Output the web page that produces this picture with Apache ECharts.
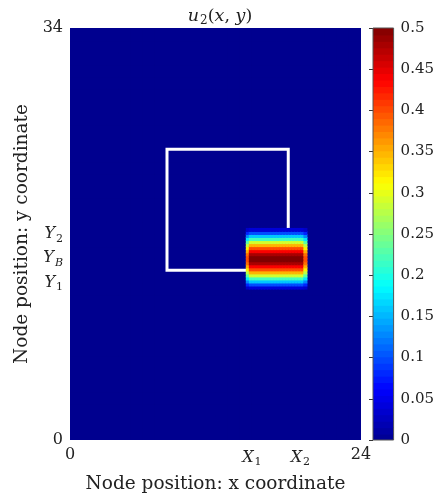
<!DOCTYPE html>
<html><head><meta charset="utf-8">
<script src="https://cdn.jsdelivr.net/npm/echarts@6/dist/echarts.min.js"></script>
<style>html,body{margin:0;padding:0;background:#fff}#c{width:437px;height:500px}</style>
</head><body><div id="c"></div>
<script>
// ---- data ----
const xRange = [0, 24];
const yRange = [0, 34];
const xTickValues = [0, 15, 19, 24];
const xTickLabels = ['0', '{i|X}{s|1}', '{i|X}{s|2}', '24'];
const yTickValues = [0, 13, 15, 17, 34];
const yTickLabels = ['0', '{i|Y}{s|1}', '{i|Y}{sb|B}', '{i|Y}{s|2}', '34'];
// blob: row edges (y) with the value of each row, column edges (x) with a weight per column
const blobRowEdges = [12.5,12.75,13,13.25,13.5,13.75,14,14.25,14.5,14.75,15,15.25,15.5,15.75,16,16.25,16.5,16.75,17,17.25,17.5];
const blobRowValue = [0.04,0.1,0.16,0.22,0.29,0.35,0.40,0.44,0.48,0.50,0.50,0.48,0.44,0.40,0.35,0.29,0.22,0.16,0.1,0.04];
const blobColEdges = [14.5,14.75,15,15.25,15.5,15.75,16,16.25,16.5,16.75,17,17.25,17.5,17.75,18,18.25,18.5,18.75,19,19.25,19.5];
const blobColWeight = [0.8,1,1,1,1,1,1,1,1,1,1,1,1,1,1,1,1,1,1,0.8];
// white box outline
const boxX = [8, 8, 18, 18, 8];
const boxY = [14, 24, 24, 14, 14];
// colour scale
const cbMin = 0, cbMax = 0.5, cbInterval = 0.05, cbLevels = 64;
const jet = ['#00008F','#0000FF','#0080FF','#00FFFF','#80FF80','#FFFF00','#FF8000','#FF0000','#800000'];

// ---- build series data ----
const zeroField = [];
for (let x = xRange[0]; x < xRange[1]; x++)
  for (let y = yRange[0]; y < yRange[1]; y++) zeroField.push([x, y, x + 1, y + 1, 0]);
const blobField = [];
for (let i = 0; i < blobColWeight.length; i++)
  for (let j = 0; j < blobRowValue.length; j++)
    blobField.push([blobColEdges[i], blobRowEdges[j], blobColEdges[i + 1], blobRowEdges[j + 1], blobRowValue[j] * blobColWeight[i]]);
const cbData = [];
for (let k = 0; k < cbLevels; k++) {
  const v0 = cbMin + (cbMax - cbMin) * k / cbLevels, v1 = cbMin + (cbMax - cbMin) * (k + 1) / cbLevels;
  cbData.push([0, v0, 1, v1, (v0 + v1) / 2]);
}
const boxData = boxX.map((x, i) => [x, boxY[i]]);

function rectItem(params, api) {
  const p0 = api.coord([api.value(0), api.value(1)]);
  const p1 = api.coord([api.value(2), api.value(3)]);
  const cs = params.coordSys;
  const x = Math.min(p0[0], p1[0]), y = Math.min(p0[1], p1[1]);
  let w = Math.abs(p1[0] - p0[0]) + 1, h = Math.abs(p1[1] - p0[1]) + 1;
  w = Math.min(w, cs.x + cs.width - x); h = Math.min(h, cs.y + cs.height - y);
  return { type: 'rect', shape: { x: x, y: y, width: w, height: h },
           style: { fill: api.visual('color'), stroke: null } };
}

const serif = 'DejaVu Serif';
const rich = {
  i: { fontFamily: serif, fontStyle: 'italic', fontWeight: 'normal', fontSize: 16, color: '#222' },
  s: { fontFamily: serif, fontWeight: 'normal', fontSize: 11, color: '#222', padding: [10, 0, 0, 1] },
  sb: { fontFamily: serif, fontStyle: 'italic', fontWeight: 'normal', fontSize: 11, color: '#222', padding: [10, 0, 0, 1] }
};
const titleRich = {
  i: { fontFamily: serif, fontStyle: 'italic', fontWeight: 'normal', fontSize: 17.5, color: '#222' },
  s: { fontFamily: serif, fontWeight: 'normal', fontSize: 12, color: '#222', padding: [10, 0, 0, 1] },
  n: { fontFamily: serif, fontWeight: 'normal', fontSize: 17.5, color: '#222' }
};

const chart = echarts.init(document.getElementById('c'), null, { renderer: 'canvas' });
chart.setOption({
  animation: false,
  backgroundColor: '#fff',
  title: {
    text: '{i|u}{s|2}{n|(}{i|x}{n|, }{i|y}{n|)}',
    left: 215, top: 0, textAlign: 'center',
    textStyle: { fontFamily: serif, fontWeight: 'normal', fontSize: 17.5, color: '#222', rich: titleRich }
  },
  grid: [
    { left: 70, top: 28, width: 291, height: 412, show: false },
    { left: 373, top: 28, width: 25, height: 412, show: true, backgroundColor: 'transparent', borderColor: '#555', borderWidth: 1, z: 10 }
  ],
  xAxis: [
    { type: 'value', gridIndex: 0, min: xRange[0], max: xRange[1],
      name: 'Node position: x coordinate', nameLocation: 'middle', nameGap: 35,
      nameTextStyle: { fontFamily: serif, fontSize: 18.5, color: '#222' },
      axisLine: { show: false }, axisTick: { show: false }, splitLine: { show: false },
      axisLabel: { customValues: xTickValues, margin: 7, fontFamily: serif, fontSize: 16, color: '#222', rich: rich,
        formatter: v => xTickLabels[xTickValues.indexOf(v)] } },
    { type: 'value', gridIndex: 1, min: 0, max: 1, show: false }
  ],
  yAxis: [
    { type: 'value', gridIndex: 0, min: yRange[0], max: yRange[1],
      name: 'Node position: y coordinate', nameLocation: 'middle', nameGap: 37,
      nameTextStyle: { fontFamily: serif, fontSize: 18.5, color: '#222' },
      axisLine: { show: false }, axisTick: { show: false }, splitLine: { show: false },
      axisLabel: { customValues: yTickValues, margin: 7, fontFamily: serif, fontSize: 16, color: '#222', rich: rich,
        formatter: v => yTickLabels[yTickValues.indexOf(v)] } },
    { type: 'value', gridIndex: 1, min: cbMin, max: cbMax, interval: cbInterval, position: 'right',
      axisLine: { show: false }, splitLine: { show: false },
      axisTick: { show: true, inside: true, length: 4, lineStyle: { color: '#333', width: 1 } },
      axisLabel: { margin: 7, fontFamily: serif, fontSize: 15, color: '#222' } }
  ],
  visualMap: {
    type: 'continuous', show: false, min: cbMin, max: cbMax, dimension: 4,
    seriesIndex: [0, 2, 3], inRange: { color: jet }
  },
  series: [
    { type: 'custom', name: 'zero', xAxisIndex: 0, yAxisIndex: 0, z: 1, renderItem: rectItem,
      encode: { x: [0, 2], y: [1, 3] }, data: zeroField, silent: true },
    { type: 'line', name: 'box', xAxisIndex: 0, yAxisIndex: 0, z: 2, data: boxData, symbol: 'none',
      lineStyle: { color: '#fff', width: 3, join: 'miter', cap: 'square' }, silent: true },
    { type: 'custom', name: 'u2', xAxisIndex: 0, yAxisIndex: 0, z: 3, renderItem: rectItem,
      encode: { x: [0, 2], y: [1, 3] }, data: blobField, silent: true },
    { type: 'custom', name: 'colorbar', xAxisIndex: 1, yAxisIndex: 1, z: 3, renderItem: rectItem,
      encode: { x: [0, 2], y: [1, 3] }, data: cbData, silent: true }
  ]
});
</script></body></html>
